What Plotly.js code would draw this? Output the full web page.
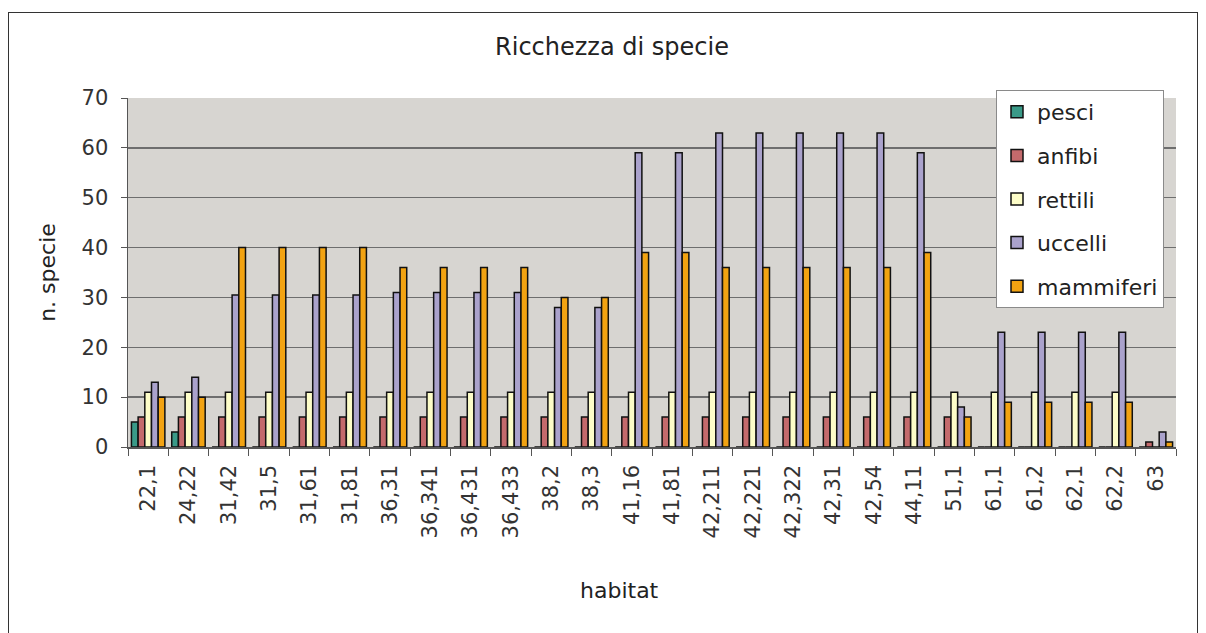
<!DOCTYPE html>
<html>
<head>
<meta charset="utf-8">
<script src="https://cdn.plot.ly/plotly-3.0.1.min.js"></script>
<style>
  html, body { margin: 0; padding: 0; background: #ffffff; }
  #wrap { position: relative; width: 1206px; height: 633px; overflow: hidden; }
  #chart { position: absolute; left: 0; top: 0; width: 1206px; height: 633px; }
  #frame { position: absolute; left: 8px; top: 12px; width: 1188px; height: 700px;
           border: 1px solid #333; pointer-events: none; }
</style>
</head>
<body>
<div id="wrap">
  <div id="chart"></div>
  <div id="frame"></div>
</div>
<script>
const habitats = ["22,1","24,22","31,42","31,5","31,61","31,81","36,31","36,341","36,431","36,433",
  "38,2","38,3","41,16","41,81","42,211","42,221","42,322","42,31","42,54","44,11",
  "51,1","61,1","61,2","62,1","62,2","63"];
const pesci     = [5,3,0,0,0,0,0,0,0,0, 0,0,0,0,0,0,0,0,0,0, 0,0,0,0,0,0];
const anfibi    = [6,6,6,6,6,6,6,6,6,6, 6,6,6,6,6,6,6,6,6,6, 6,0,0,0,0,1];
const rettili   = [11,11,11,11,11,11,11,11,11,11, 11,11,11,11,11,11,11,11,11,11, 11,11,11,11,11,0];
const uccelli   = [13,14,30.5,30.5,30.5,30.5,31,31,31,31, 28,28,59,59,63,63,63,63,63,59, 8,23,23,23,23,3];
const mammiferi = [10,10,40,40,40,40,36,36,36,36, 30,30,39,39,36,36,36,36,36,39, 6,9,9,9,9,1];

const seriesNames = ["pesci","anfibi","rettili","uccelli","mammiferi"];
const seriesValues = [pesci, anfibi, rettili, uccelli, mammiferi];
const seriesColors = ["#3a9a88","#c46a6c","#fdfdc8","#aaa2cc","#f2a312"];

const FONT = "DejaVu Sans, Liberation Sans, Arial, sans-serif";

const traces = seriesNames.map((n, i) => ({
  type: "bar",
  name: n,
  x: habitats,
  y: seriesValues[i],
  legendgroup: n,
  marker: { color: seriesColors[i], line: { color: "#111", width: 1.5 } },
  hoverinfo: "x+y+name"
}));

const layout = {
  width: 1206, height: 633,
  margin: { l: 128, r: 30, t: 98, b: 186 },
  paper_bgcolor: "#ffffff",
  plot_bgcolor: "#d7d5d1",
  barmode: "group",
  bargap: 0.17,
  bargroupgap: 0,
  font: { family: FONT, size: 22, color: "#222" },
  title: {
    text: "Ricchezza di specie",
    font: { family: FONT, size: 24, color: "#222" },
    x: 612/1206, xref: "container", xanchor: "center",
    y: 1 - 47/633, yref: "container", yanchor: "middle"
  },
  xaxis: {
    type: "category",
    tickangle: -90,
    tickfont: { family: FONT, size: 21, color: "#333" },
    ticks: "outside", ticklen: 7, tickcolor: "#555",
    tickson: "boundaries",
    ticklabelstandoff: 8,
    showline: true, linecolor: "#555", linewidth: 1.5,
    showgrid: false,
    automargin: false,
    title: { text: "" }
  },
  yaxis: {
    range: [0, 70],
    dtick: 10,
    tickfont: { family: FONT, size: 21, color: "#333" },
    ticks: "outside", ticklen: 6, tickcolor: "#555",
    ticklabelstandoff: 8,
    showline: true, linecolor: "#555", linewidth: 1.5,
    showgrid: true, gridcolor: "#6e6e6e", gridwidth: 1.5,
    zeroline: false,
    automargin: false,
    title: { text: "n. specie", font: { family: FONT, size: 22, color: "#222" }, standoff: 20 }
  },
  legend: {
    x: (996 - 128) / 1048, xanchor: "left",
    y: (447 - 90) / 349, yanchor: "top",
    bgcolor: "#ffffff",
    bordercolor: "#8a8a8a", borderwidth: 1,
    font: { family: FONT, size: 22, color: "#222" },
    traceorder: "grouped",
    tracegroupgap: 12
  },
  annotations: [{
    text: "habitat",
    xref: "paper", yref: "paper",
    x: (619 - 128) / 1048, y: (447 - 590) / 349,
    xanchor: "center", yanchor: "middle",
    showarrow: false,
    font: { family: FONT, size: 22, color: "#222" }
  }]
};

Plotly.newPlot("chart", traces, layout, { displayModeBar: false, staticPlot: true });
</script>
</body>
</html>
